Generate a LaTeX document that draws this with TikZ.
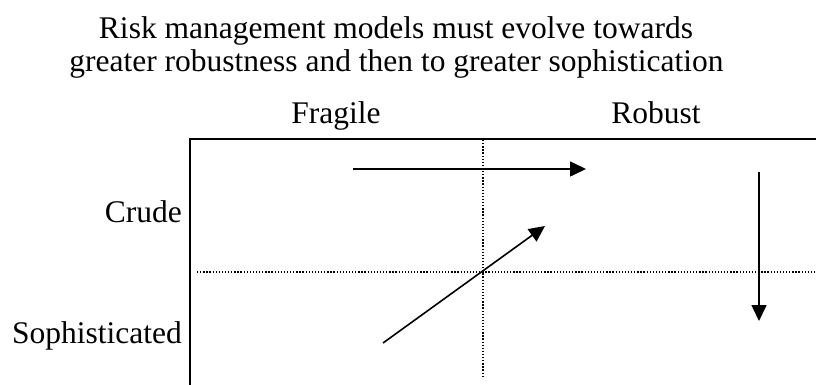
\documentclass[tikz,border=0pt]{standalone}
\usepackage{fontspec}
\setmainfont{Liberation Serif}
\usetikzlibrary{arrows.meta}
\begin{document}
\begin{tikzpicture}[x=1pt,y=-1pt,
  lbl/.style={inner sep=0pt,font=\fontsize{31.5}{38}\selectfont},
  frame/.style={line width=1.5pt},
  guide/.style={line width=1.3pt,dash pattern=on 1.3pt off 1.8pt},
  arr/.style={line width=1.6pt,-{Triangle[length=16pt,width=15pt]}}]
\useasboundingbox (0,0) rectangle (816,385);
% title
\node[lbl,anchor=base] (t1) at (396,39) {Risk management models must evolve towards};
\node[lbl,anchor=base] (t2) at (396.5,72) {greater robustness and then to greater sophistication};
% column labels
\node[lbl,anchor=base] (fragile) at (336,124) {Fragile};
\node[lbl,anchor=base] (robust) at (656,124) {Robust};
% row labels
\node[lbl,anchor=base east] (crude) at (182,222) {Crude};
\node[lbl,anchor=base east] (soph) at (182,343) {Sophisticated};
% frame
\coordinate (tr) at (816,139);
\coordinate (tl) at (190,139);
\coordinate (bl) at (190,385);
\draw[frame] (tr) -- (tl) -- (bl);
% dotted guides
\coordinate (vtop) at (483,140);
\coordinate (vbot) at (483,377);
\coordinate (hl) at (197,272);
\coordinate (hr) at (816,272);
\draw[guide] (vtop) -- (vbot);
\draw[guide] (hl) -- (hr);
% arrows
\coordinate (a1s) at (353,169);
\coordinate (a1e) at (586,169);
\coordinate (a2s) at (383,343);
\coordinate (a2e) at (545,226);
\coordinate (a3s) at (759,172);
\coordinate (a3e) at (759,321);
\draw[arr] (a1s) -- (a1e);
\draw[arr] (a2s) -- (a2e);
\draw[arr] (a3s) -- (a3e);
\end{tikzpicture}
\end{document}
